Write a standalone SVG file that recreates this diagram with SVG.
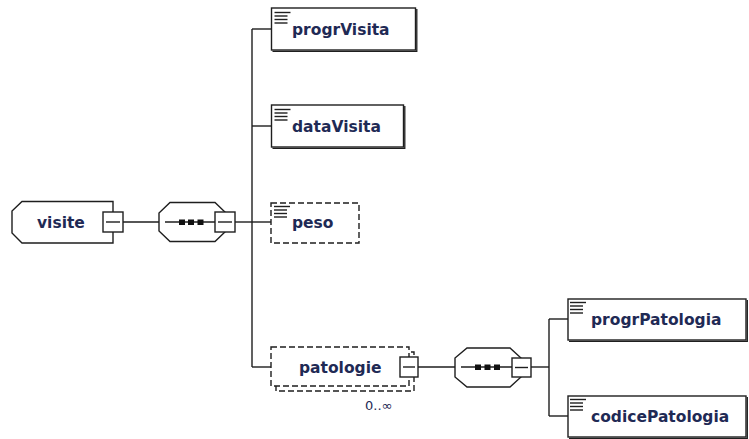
<svg xmlns="http://www.w3.org/2000/svg" width="749" height="439" viewBox="0 0 749 439">
<style>
.ln{fill:none;stroke:#1e1e1e;stroke-width:1.4}
.bx{fill:#fff;stroke:#1e1e1e;stroke-width:1.4}
.dbx{fill:#fff;stroke:#1e1e1e;stroke-width:1.4;stroke-dasharray:6 3}
.sh{fill:none;stroke:#1e1e1e;stroke-width:1.3}
.lbl{font-family:"DejaVu Sans",Verdana,sans-serif;font-weight:bold;font-size:15.5px;fill:#1f2a55}
.occ{font-family:"DejaVu Sans",Verdana,sans-serif;font-size:13px;fill:#1f2a55}
.ic{stroke:#1e1e1e;stroke-width:1.4}
.dot{fill:#111}
</style>
<defs>
<g id="icon">
<line class="ic" x1="3" y1="4.5" x2="19" y2="4.5"/>
<line class="ic" x1="3" y1="8" x2="16" y2="8"/>
<line class="ic" x1="3" y1="11.5" x2="16" y2="11.5"/>
<line class="ic" x1="3" y1="15" x2="16" y2="15"/>
</g>
</defs>
<rect width="749" height="439" fill="#fff"/>
<g id="connectors">
<line class="ln" x1="123" y1="222" x2="159" y2="222"/>
<line class="ln" x1="235" y1="222" x2="252" y2="222"/>
<line class="ln" x1="252" y1="29" x2="252" y2="367"/>
<line class="ln" x1="252" y1="29" x2="271.5" y2="29"/>
<line class="ln" x1="252" y1="126" x2="271.5" y2="126"/>
<line class="ln" x1="252" y1="222" x2="271" y2="222"/>
<line class="ln" x1="252" y1="367" x2="271" y2="367"/>
<line class="ln" x1="418" y1="367" x2="455" y2="367"/>
<line class="ln" x1="531" y1="367" x2="549" y2="367"/>
<line class="ln" x1="549" y1="319" x2="549" y2="416"/>
<line class="ln" x1="549" y1="319" x2="568" y2="319"/>
<line class="ln" x1="549" y1="416" x2="568" y2="416"/>
</g>
<g id="visite">
<path class="bx" d="M22,201.5 H113 V243 H22 L12,233 V211 Z"/>
<text class="lbl" x="37" y="228">visite</text>
<rect class="bx" x="103" y="212" width="20" height="20"/>
<line class="ln" x1="106" y1="222" x2="120" y2="222"/>
</g>
<g id="sequence1">
<path class="bx" d="M170,202.5 H215 L226,213 V231 L215,241.5 H170 L159,231 V213 Z"/>
<line class="ln" x1="165" y1="222" x2="215" y2="222"/>
<rect class="dot" x="179" y="219.5" width="6" height="5.5"/>
<rect class="dot" x="188" y="219.5" width="6" height="5.5"/>
<rect class="dot" x="197.5" y="219.5" width="6" height="5.5"/>
<rect class="bx" x="215" y="212" width="20" height="20"/>
<line class="ln" x1="218" y1="222" x2="232" y2="222"/>
</g>
<g id="progrVisita">
<rect class="bx" x="271.5" y="8" width="144" height="42"/>
<path class="sh" d="M416.8,9 V51.3 H272.5"/>
<use href="#icon" x="271.5" y="8"/>
<text class="lbl" x="292" y="35">progrVisita</text>
</g>
<g id="dataVisita">
<rect class="bx" x="271.5" y="105" width="132" height="42"/>
<path class="sh" d="M404.8,106 V148.3 H272.5"/>
<use href="#icon" x="271.5" y="105"/>
<text class="lbl" x="292" y="132">dataVisita</text>
</g>
<g id="peso">
<rect class="dbx" x="271" y="203" width="88" height="40"/>
<use href="#icon" x="271" y="202"/>
<text class="lbl" x="292" y="228">peso</text>
</g>
<g id="patologie">
<rect class="dbx" x="276" y="352" width="138" height="39"/>
<rect class="dbx" x="271" y="347" width="138" height="39"/>
<text class="lbl" x="299" y="373">patologie</text>
<rect class="bx" x="400" y="357" width="18" height="20"/>
<line class="ln" x1="403" y1="367" x2="415" y2="367"/>
<text class="occ" x="365" y="410">0..∞</text>
</g>
<g id="sequence2">
<path class="bx" d="M467,348 H510 L521,358 V377 L510,387 H467 L455,377 V358 Z"/>
<line class="ln" x1="461" y1="367" x2="512" y2="367"/>
<rect class="dot" x="475" y="364.5" width="6" height="5.5"/>
<rect class="dot" x="484.5" y="364.5" width="6" height="5.5"/>
<rect class="dot" x="494" y="364.5" width="6" height="5.5"/>
<rect class="bx" x="512" y="358" width="19" height="19"/>
<line class="ln" x1="515" y1="367.5" x2="528" y2="367.5"/>
</g>
<g id="progrPatologia">
<rect class="bx" x="568" y="299" width="178" height="41"/>
<path class="sh" d="M747.3,300 V341.3 H569"/>
<use href="#icon" x="567" y="298"/>
<text class="lbl" x="591" y="325">progrPatologia</text>
</g>
<g id="codicePatologia">
<rect class="bx" x="568" y="396" width="178" height="41"/>
<path class="sh" d="M747.3,397 V438.3 H569"/>
<use href="#icon" x="567" y="395"/>
<text class="lbl" x="591" y="422">codicePatologia</text>
</g>
</svg>
